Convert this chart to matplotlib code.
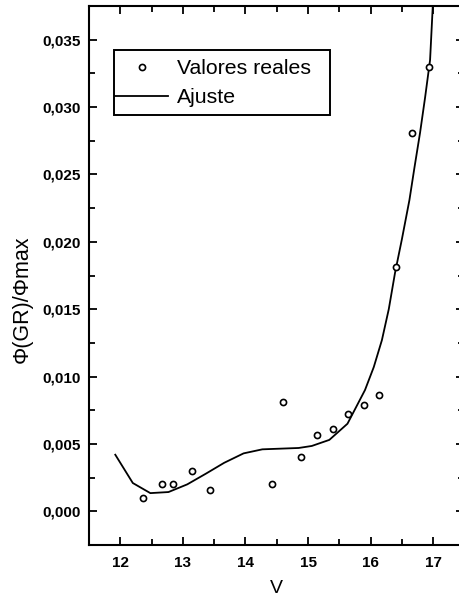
import matplotlib
matplotlib.use("Agg")
import matplotlib.pyplot as plt
from matplotlib.ticker import MultipleLocator, FuncFormatter
from matplotlib.patches import Rectangle

plt.rcParams['font.family'] = ['Liberation Sans', 'DejaVu Sans']

# Data: observed values
v_obs = [12.37, 12.67, 12.84, 13.14, 13.43, 14.42, 14.60, 14.89, 15.15, 15.40,
         15.64, 15.89, 16.13, 16.40, 16.66, 16.93]
phi_obs = [0.0010, 0.0020, 0.0020, 0.0030, 0.0016, 0.0020, 0.0081, 0.0040, 0.0057, 0.0061,
           0.0072, 0.0079, 0.0086, 0.0181, 0.0281, 0.0330]

# Fit curve
v_fit = [11.92, 12.20, 12.48, 12.77, 13.07, 13.37, 13.66, 13.97, 14.27, 14.56,
         14.85, 15.06, 15.34, 15.63, 15.91, 16.05, 16.18, 16.29, 16.39, 16.50,
         16.62, 16.70, 16.79, 16.87, 16.95, 17.02]
phi_fit = [0.0042, 0.0021, 0.00135, 0.00143, 0.0020, 0.0028, 0.0036, 0.0043, 0.0046, 0.00465,
           0.0047, 0.00485, 0.0053, 0.0065, 0.0090, 0.0107, 0.0127, 0.0150, 0.0177, 0.0202,
           0.0231, 0.0255, 0.0281, 0.0307, 0.0335, 0.0400]

xticks = [12, 13, 14, 15, 16, 17]
yticks = [0.000, 0.005, 0.010, 0.015, 0.020, 0.025, 0.030, 0.035]

W, H = 460, 599
ax_l, ax_r, ax_t, ax_b = 89, 464.5, 6, 545
aw, ah = ax_r - ax_l, ax_b - ax_t

fig = plt.figure(figsize=(W/100, H/100), dpi=100)
ax = fig.add_axes([ax_l/W, (H-ax_b)/H, aw/W, ah/H])

ax.plot(v_obs, phi_obs, linestyle='none', marker='o', markersize=4.4,
        markerfacecolor='white', markeredgecolor='black', markeredgewidth=1.2,
        label='Valores reales', zorder=3)
ax.plot(v_fit, phi_fit, color='black', lw=1.3, label='Ajuste', zorder=2)

ax.set_xlim(11.5, 17.5)
ax.set_ylim(-0.0025, 0.0375)
ax.set_xticks(xticks)
ax.set_yticks(yticks)
ax.xaxis.set_minor_locator(MultipleLocator(0.5))
ax.yaxis.set_minor_locator(MultipleLocator(0.0025))
ax.yaxis.set_major_formatter(FuncFormatter(lambda v, p: f"{v:.3f}".replace('.', ',')))

ax.tick_params(which='both', direction='in', top=True, right=True, width=1.3,
               labelsize=11)
ax.tick_params(axis='y', pad=6)
ax.tick_params(axis='x', pad=8)
ax.tick_params(which='major', length=6)
ax.tick_params(which='minor', length=4)
for lab in ax.get_xticklabels() + ax.get_yticklabels():
    lab.set_fontweight('bold')
for s in ax.spines.values():
    s.set_linewidth(1.5)

ax.set_xlabel('V', fontsize=14, labelpad=7)
ax.set_ylabel('Φ(GR)/Φmax', fontsize=15.5)
ax.yaxis.set_label_coords(-(ax_l - 33)/aw, 1 - (299 - ax_t)/ah)

leg = ax.legend(loc='upper left',
                bbox_to_anchor=((115 - ax_l)/aw, 1 - (59 - ax_t)/ah),
                fontsize=15.3, frameon=False,
                borderpad=0, handlelength=2.5, handletextpad=0.42, labelspacing=0.48,
                borderaxespad=0)
ax.add_patch(Rectangle(((114 - ax_l)/aw, 1 - (115 - ax_t)/ah), 216/aw, 65/ah,
                       transform=ax.transAxes, fill=False, lw=1.4,
                       edgecolor='black', zorder=5))

fig.savefig('out.png', dpi=100)
